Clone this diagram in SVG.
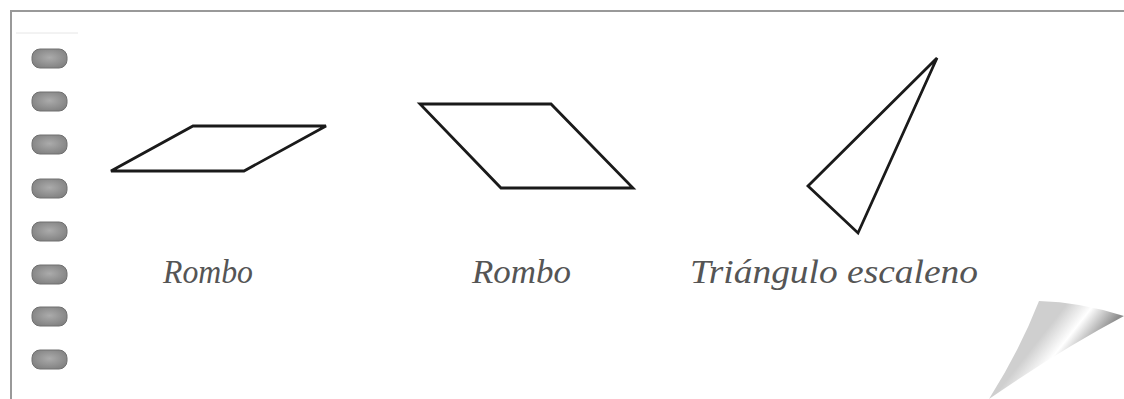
<svg xmlns="http://www.w3.org/2000/svg" width="1124" height="399" viewBox="0 0 1124 399">
<defs>
<style>
.shape{fill:none;stroke:#1a1a1a;stroke-width:2.8;stroke-linejoin:miter}
.pill{fill:url(#pillg);stroke:#707070;stroke-width:1}
.lbl{font-family:"Liberation Serif",serif;font-style:italic;font-size:34px;fill:#555}
</style>
<radialGradient id="pillg" cx="0.5" cy="0.45" r="0.6">
<stop offset="0" stop-color="#ababab"/>
<stop offset="1" stop-color="#808080"/>
</radialGradient>
<linearGradient id="curl" x1="1040" y1="338" x2="1078" y2="368" gradientUnits="userSpaceOnUse">
<stop offset="0" stop-color="#cfcfcf"/>
<stop offset="0.45" stop-color="#ffffff"/>
<stop offset="1" stop-color="#8e8e8e"/>
</linearGradient>
</defs>
<rect width="1124" height="399" fill="#fff"/>
<g id="border">
<path d="M11 399 V11 H1124" fill="none" stroke="#999" stroke-width="2"/>
<line x1="16" y1="33" x2="78" y2="33" stroke="#e6e6e6" stroke-width="1"/>
</g>
<g id="rings">
<rect class="pill" x="32" y="49" width="35" height="19" rx="8"/>
<rect class="pill" x="32" y="92" width="35" height="19" rx="8"/>
<rect class="pill" x="32" y="135" width="35" height="19" rx="8"/>
<rect class="pill" x="32" y="179" width="35" height="19" rx="8"/>
<rect class="pill" x="32" y="222" width="35" height="19" rx="8"/>
<rect class="pill" x="32" y="265" width="35" height="19" rx="8"/>
<rect class="pill" x="32" y="307" width="35" height="19" rx="8"/>
<rect class="pill" x="32" y="350" width="35" height="19" rx="8"/>
</g>
<g id="rombo1">
<polygon class="shape" points="111,171 193,126 326,126 244,171"/>
<text class="lbl" x="163" y="283" textLength="90" lengthAdjust="spacingAndGlyphs">Rombo</text>
</g>
<g id="rombo2">
<polygon class="shape" points="420,104 551,104 633,188 501,188"/>
<text class="lbl" x="472" y="283" textLength="99" lengthAdjust="spacingAndGlyphs">Rombo</text>
</g>
<g id="triangulo">
<polygon class="shape" points="937,58 808,186 858,233"/>
<text class="lbl" x="690" y="283" textLength="288" lengthAdjust="spacingAndGlyphs">Triángulo escaleno</text>
</g>
<g id="curlcorner">
<path d="M1039 301 Q1010 350 989 399 L1124 399 L1124 316 Q1080 302 1039 301 Z" fill="#fff"/>
<path d="M1039 301 Q1020 350 989 399 Q1060 350 1124 316 Q1080 302 1039 301 Z" fill="url(#curl)"/>
</g>
</svg>
